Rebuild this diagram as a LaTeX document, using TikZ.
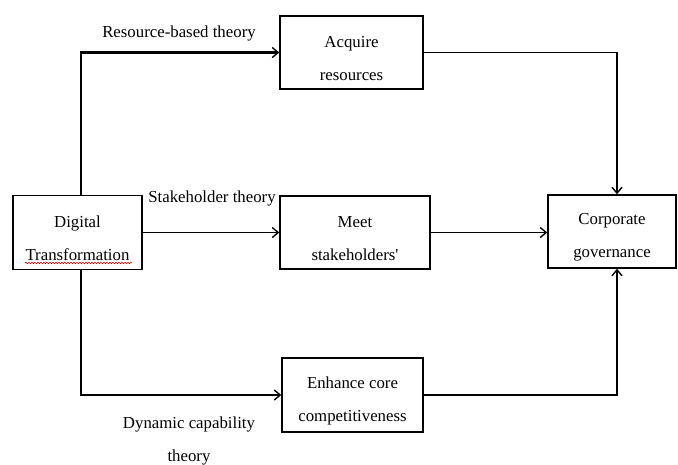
\documentclass[tikz,border=0pt]{standalone}
\usepackage{fontspec}
\setmainfont{Liberation Serif}
\usetikzlibrary{arrows.meta,decorations.pathmorphing}
\begin{document}
\begin{tikzpicture}[x=1pt,y=-1pt,
  box/.style={draw,line width=1.4pt,inner sep=0pt},
  txt/.style={align=center,inner sep=0pt,font=\fontsize{16.8}{33}\selectfont},
  lbl/.style={inner sep=0pt,font=\fontsize{16.8}{33}\selectfont},
  conn/.style={line width=1.4pt,-{Straight Barb[length=6pt,width=10pt,line width=1.4pt]}},
  plain/.style={line width=1.4pt}]
\useasboundingbox (0,0) rectangle (678,464);
% boxes
\node[box,minimum width=129pt,minimum height=74pt] (dt) at (77.5,232.5) {};
\node[box,minimum width=143pt,minimum height=73pt] (ar) at (351.5,52.5) {};
\node[box,minimum width=150pt,minimum height=73pt] (ms) at (355,232.5) {};
\node[box,minimum width=128pt,minimum height=73pt] (cg) at (612,231.5) {};
\node[box,minimum width=141pt,minimum height=74pt] (ec) at (352.5,395) {};
% texts
\node[txt] (dt-t) at ([yshift=-6pt]dt.center) {Digital\\Transformation};
\node[txt] (ar-t) at ([yshift=-6pt]ar.center) {Acquire\\resources};
\node[txt] (ms-t) at ([yshift=-6pt]ms.center) {Meet\\stakeholders\textquotesingle};
\node[txt] (cg-t) at ([yshift=-6pt]cg.center) {Corporate\\governance};
\node[txt] (ec-t) at ([yshift=-6pt]ec.center) {Enhance core\\competitiveness};
% labels
\node[lbl] (l1) at (179,33) {Resource-based theory};
\node[lbl] (l2) at (212,198) {Stakeholder theory};
\node[txt] (l3) at (189,441) {Dynamic capability\\theory};
% spell-check underline
\coordinate (u1) at (25,263);
\coordinate (u2) at (132,263);
\draw[red!80!black,line width=0.6pt,decorate,decoration={snake,amplitude=0.8pt,segment length=3pt}] (u1) -- (u2);
% connectors
\coordinate (tl) at (81,52.5);
\coordinate (bl) at (81,395);
\coordinate (tr) at (617,52.5);
\coordinate (br) at (617,395);
\draw[conn,line width=2.3pt] (dt.north -| tl) -- (tl) -- (ar.west);
\draw[conn] (dt.east) -- (ms.west);
\draw[conn] (dt.south -| bl) -- (bl) -- (ec.west);
\draw[conn] (ar.east) -- (tr) -- (cg.north -| tr);
\draw[conn] (ms.east) -- (ms.east -| cg.west);
\draw[conn] (ec.east) -- (br) -- (cg.south -| br);
\end{tikzpicture}
\end{document}
